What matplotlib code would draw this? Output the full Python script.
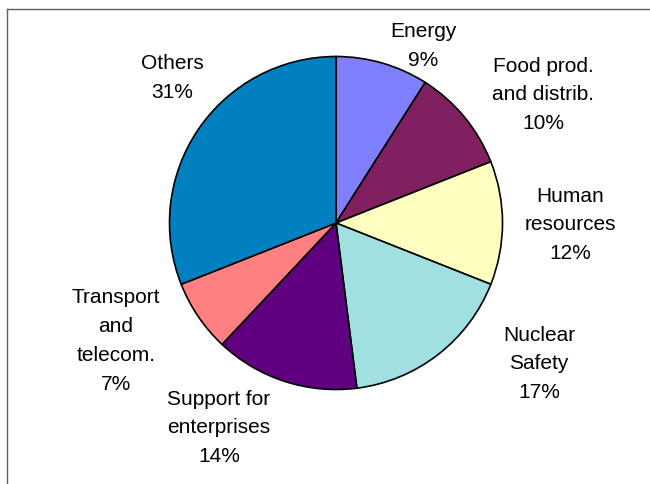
import matplotlib
matplotlib.use("Agg")
import matplotlib.pyplot as plt
from matplotlib.lines import Line2D

categories = ["Energy", "Food prod.\nand distrib.", "Human\nresources", "Nuclear\nSafety",
              "Support for\nenterprises", "Transport\nand\ntelecom.", "Others"]
values = [9, 10, 12, 17, 14, 7, 31]
colors = ["#8080FF", "#802060", "#FFFFC0", "#A0E0E0", "#600080", "#FF8080", "#0080C0"]
# label anchor positions (pixel coords, top-left origin) of label block centres
label_pos = [(423, 46), (543, 95), (570, 225), (539, 364), (219, 428), (116, 341), (172, 78)]

W, H = 650, 485
fig = plt.figure(figsize=(W / 100, H / 100), dpi=100)
plt.rcParams['font.family'] = ['Liberation Sans', 'DejaVu Sans']

cx, cy, r = 336, 224, 166.5
ax = fig.add_axes([(cx - r) / W, (H - cy - r) / H, 2 * r / W, 2 * r / H])
ax.pie(values, colors=colors, startangle=90, counterclock=False,
       wedgeprops=dict(edgecolor="black", linewidth=1.2))
ax.set_xlim(-1, 1)
ax.set_ylim(-1, 1)
ax.set_aspect('auto')
ax.axis('off')

for cat, v, (px, py) in zip(categories, values, label_pos):
    fig.text(px / W, 1 - py / H, f"{cat}\n{v}%", ha="center", va="center",
             fontsize=15, linespacing=1.65, color="black")

fig.add_artist(Line2D([7 / W, 7 / W], [0, 1 - 10 / H], transform=fig.transFigure,
                      color="#606060", linewidth=1.0))
fig.add_artist(Line2D([7 / W, 1], [1 - 10 / H, 1 - 10 / H], transform=fig.transFigure,
                      color="#606060", linewidth=1.0))

fig.savefig("out.png", dpi=100)
